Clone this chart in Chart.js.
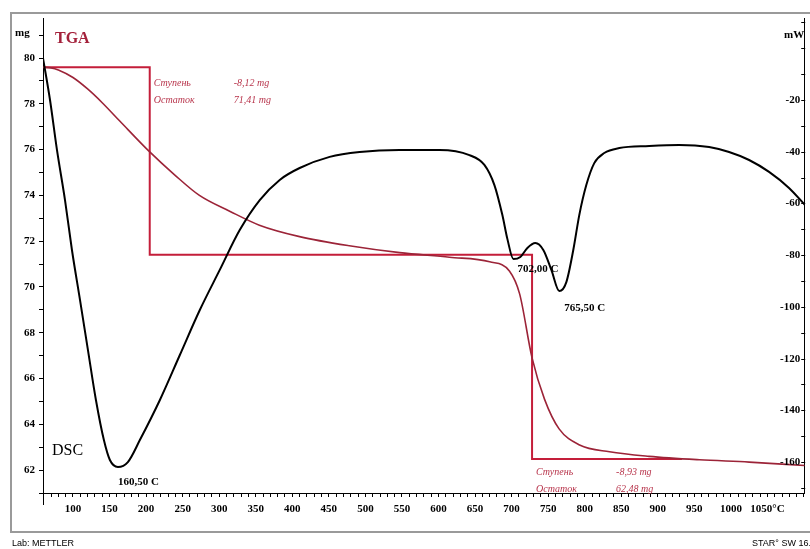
<!DOCTYPE html>
<html>
<head>
<meta charset="utf-8">
<script src="https://cdn.jsdelivr.net/npm/chart.js@4"></script>
<style>
  html, body { margin: 0; padding: 0; background: #fff; }
  #wrap { position: relative; width: 810px; height: 549px; }
</style>
</head>
<body>
<div id="wrap"><canvas id="tga" width="810" height="549"></canvas></div>
<script>
// TGA curve: temperature (°C) / mass (mg)
const tgaTemp = [59, 70, 80, 100, 120, 140, 164, 205, 239, 273, 315, 355, 410, 478, 547, 615, 670, 697, 711, 728, 745, 765, 793, 834, 888, 957, 1025, 1101]
const tgaMass = [79.6, 79.57, 79.48, 79.15, 78.65, 78.05, 77.25, 75.9, 74.9, 74.0, 73.3, 72.7, 72.2, 71.8, 71.5, 71.3, 71.1, 70.7, 69.7, 66.9, 65.1, 63.8, 63.1, 62.8, 62.6, 62.45, 62.35, 62.2]

// DSC curve: temperature (°C) / heat flow (mW)
const dscTemp = [59, 68.6, 78.1, 89.1, 98.6, 109.6, 120.5, 131.4, 142.3, 150.5, 161.5, 175.1, 191.5, 218.9, 246.2, 273.5, 300.8, 328.1, 355.5, 382.8, 410.1, 451.1, 492.1, 546.7, 601.4, 642.3, 662.8, 676.5, 687.4, 694.3, 702.5, 712, 721.6, 732.5, 743.4, 754.4, 765.3, 774.9, 784.4, 792.6, 802.2, 813.1, 826.8, 847.3, 888.3, 929.2, 970.2, 997.5, 1024.9, 1052.2, 1079.5, 1101.4]
const dscHeat = [-3.8, -20.0, -39.3, -58.7, -78.0, -97.3, -116.7, -136.0, -151.5, -159.2, -161.9, -160.0, -151.5, -136.0, -118.6, -101.2, -85.7, -70.3, -58.7, -50.9, -46.3, -42.0, -40.1, -39.3, -39.3, -41.3, -45.1, -52.9, -64.5, -73.8, -81.5, -80.7, -77.2, -75.3, -78.0, -85.7, -93.9, -90.4, -78.0, -64.5, -52.9, -44.4, -40.5, -38.6, -37.8, -37.4, -38.2, -40.1, -43.2, -47.8, -54.0, -60.6]

// step evaluation (horizontal / vertical construction lines)
const stepTemp = [59, 205, 205, 728, 728, 933]
const stepMass = [79.6, 79.6, 71.41, 71.41, 62.48, 62.48]
const stepTexts = [['Ступень', '-8,12 mg', 'Остаток', '71,41 mg'], ['Ступень', '-8,93 mg', 'Остаток', '62,48 mg']]

// DSC peaks
const peakTemp = [161.5, 702.5, 765.3]
const peakHeat = [-161.9, -81.5, -93.9]
const peakLabels = ['160,50 C', '702,00 C', '765,50 C']

const xTickLabels = [100, 150, 200, 250, 300, 350, 400, 450, 500, 550, 600, 650, 700, 750, 800, 850, 900, 950, 1000, 1050]
const mgTicks = [62, 64, 66, 68, 70, 72, 74, 76, 78, 80]
const mwTicks = [-20, -40, -60, -80, -100, -120, -140, -160]

const serif = '"Liberation Serif", "DejaVu Serif", serif'
const redCurve = '#9c2438'
const redLine = '#c41e3a'
const redText = '#b8354c'

function toPoints(xs, ys) {
    return xs.map((x, i) => ({ x: x, y: ys[i] }))
}

function rangeTicks(from, to, step) {
    const out = []
    for (let v = from; v <= to + 1e-9; v += step) out.push({ value: v })
    return out
}

const decorPlugin = {
    id: 'decor',
    beforeDraw(chart) {
        const ctx = chart.ctx
        ctx.save()
        ctx.fillStyle = '#fff'
        ctx.fillRect(0, 0, chart.width, chart.height)
        ctx.strokeStyle = '#9a9a9a'
        ctx.lineWidth = 2
        ctx.strokeRect(11, 13, 805, 519)
        ctx.restore()
    },
    afterDraw(chart) {
        const ctx = chart.ctx
        const sx = chart.scales.x
        const sMg = chart.scales.yMg
        const sMw = chart.scales.yMw
        ctx.save()
        ctx.textBaseline = 'middle'

        // right axis: ticks pointing inward, labels inside the plot
        ctx.strokeStyle = '#000'
        ctx.lineWidth = 1
        ctx.fillStyle = '#000'
        ctx.font = 'bold 11px ' + serif
        ctx.textAlign = 'right'
        const ax = sMw.left + 0.5
        for (let v = -170; v <= 10; v += 10) {
            const y = Math.round(sMw.getPixelForValue(v)) + 0.5
            ctx.beginPath()
            ctx.moveTo(ax - 4, y)
            ctx.lineTo(ax, y)
            ctx.stroke()
            if (mwTicks.includes(v)) ctx.fillText(String(v), ax - 5, y)
        }

        ctx.textAlign = 'left'
        ctx.fillText('mg', 15, 33)
        ctx.fillText('mW', 784, 35)

        ctx.fillStyle = '#a3203a'
        ctx.font = 'bold 16px ' + serif
        ctx.fillText('TGA', 55, 39)

        ctx.fillStyle = '#000'
        ctx.font = '16px ' + serif
        ctx.fillText('DSC', 52, 451)

        // peak labels
        const offs = [[0, 15], [4, 10], [5, 17]]
        ctx.font = 'bold 11px ' + serif
        peakLabels.forEach((t, i) => {
            const px = sx.getPixelForValue(peakTemp[i])
            const py = sMw.getPixelForValue(peakHeat[i])
            ctx.fillText(t, px + offs[i][0], py + offs[i][1])
        })

        // step texts
        ctx.fillStyle = redText
        ctx.font = 'italic 10px ' + serif
        const anchors = [[stepTemp[1], stepMass[0], 16], [stepTemp[3], stepMass[4], 13]]
        anchors.forEach((a, i) => {
            const px = sx.getPixelForValue(a[0])
            const py = sMg.getPixelForValue(a[1])
            const t = stepTexts[i]
            ctx.fillText(t[0], px + 4, py + a[2])
            ctx.fillText(t[1], px + 84, py + a[2])
            ctx.fillText(t[2], px + 4, py + a[2] + 17)
            ctx.fillText(t[3], px + 84, py + a[2] + 17)
        })

        // left axis runs a bit below the temperature axis
        ctx.strokeStyle = '#000'
        ctx.lineWidth = 1
        ctx.beginPath()
        ctx.moveTo(sMg.right + 0.5, sMg.bottom)
        ctx.lineTo(sMg.right + 0.5, sMg.bottom + 12)
        ctx.stroke()

        ctx.fillStyle = '#000'
        ctx.font = '9px "Liberation Sans", Arial, sans-serif'
        ctx.fillText('Lab: METTLER', 12, 544)
        ctx.fillText('STAR° SW 16.20', 752, 544)
        ctx.restore()
    }
}

new Chart(document.getElementById('tga'), {
    type: 'line',
    data: {
        datasets: [
            {
                label: 'DSC',
                data: toPoints(dscTemp, dscHeat),
                yAxisID: 'yMw',
                borderColor: '#000',
                borderWidth: 2,
                cubicInterpolationMode: 'monotone',
                pointRadius: 0
            },
            {
                label: 'TGA',
                data: toPoints(tgaTemp, tgaMass),
                yAxisID: 'yMg',
                borderColor: redCurve,
                borderWidth: 1.6,
                cubicInterpolationMode: 'monotone',
                pointRadius: 0
            },
            {
                label: 'Step',
                data: toPoints(stepTemp, stepMass),
                yAxisID: 'yMg',
                borderColor: redLine,
                borderWidth: 2,
                tension: 0,
                pointRadius: 0
            }
        ]
    },
    options: {
        responsive: false,
        animation: false,
        layout: { padding: { top: 18, left: 0, right: 0, bottom: 0 } },
        plugins: {
            legend: { display: false },
            tooltip: { enabled: false }
        },
        scales: {
            x: {
                type: 'linear',
                min: 59,
                max: 1101,
                afterBuildTicks: (s) => { s.ticks = rangeTicks(60, 1100, 10) },
                afterFit: (s) => { s.height = 56 },
                border: { display: true, color: '#000', width: 1, dash: [2, 2] },
                grid: { drawOnChartArea: false, drawTicks: true, tickLength: 4, color: '#000' },
                ticks: {
                    autoSkip: false,
                    maxRotation: 0,
                    padding: 6,
                    color: '#000',
                    font: { family: serif, size: 11, weight: 'bold' },
                    callback: (v) => xTickLabels.includes(v) ? (v === 1050 ? '1050°C' : String(v)) : ''
                }
            },
            yMg: {
                type: 'linear',
                position: 'left',
                min: 61.0,
                max: 81.75,
                afterBuildTicks: (s) => { s.ticks = rangeTicks(61, 81, 1) },
                afterFit: (s) => { s.width = 43 },
                border: { display: true, color: '#000', width: 1 },
                grid: { drawOnChartArea: false, tickLength: 4, color: '#000' },
                ticks: {
                    padding: 4,
                    color: '#000',
                    font: { family: serif, size: 11, weight: 'bold' },
                    callback: (v) => mgTicks.includes(v) ? String(v) : ''
                }
            },
            yMw: {
                type: 'linear',
                position: 'right',
                min: -171.97,
                max: 11.71,
                afterFit: (s) => { s.width = 2 },
                border: { display: true, color: '#000', width: 1 },
                grid: { drawOnChartArea: false, drawTicks: false },
                ticks: { display: false }
            }
        }
    },
    plugins: [decorPlugin]
})
</script>
</body>
</html>
